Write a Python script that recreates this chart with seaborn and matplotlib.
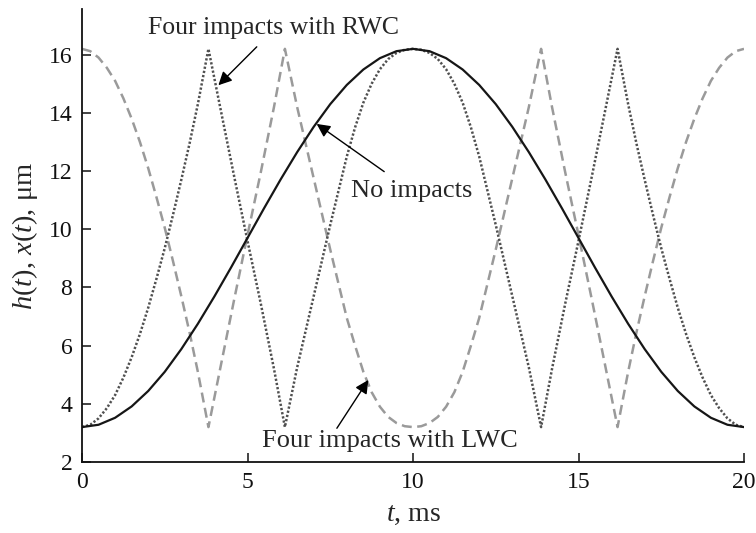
import matplotlib
matplotlib.use("Agg")
import matplotlib.pyplot as plt
import seaborn as sns
import pandas as pd

# ---- data ----
t_none = [0, 0.5, 1.0, 1.5, 2.0, 2.5, 3.0, 3.5, 4.0, 4.5, 5.0, 5.5, 6.0, 6.5, 7.0, 7.5,
          8.0, 8.5, 9.0, 9.5, 10.0, 10.5, 11.0, 11.5, 12.0, 12.5, 13.0, 13.5, 14.0,
          14.5, 15.0, 15.5, 16.0, 16.5, 17.0, 17.5, 18.0, 18.5, 19.0, 19.5, 20.0]
h_none = [3.20, 3.28, 3.52, 3.91, 4.44, 5.10, 5.88, 6.75, 7.69, 8.68, 9.70, 10.72,
          11.71, 12.65, 13.52, 14.30, 14.96, 15.49, 15.88, 16.12, 16.20, 16.12, 15.88,
          15.49, 14.96, 14.30, 13.52, 12.65, 11.71, 10.72, 9.70, 8.68, 7.69, 6.75, 5.88,
          5.10, 4.44, 3.91, 3.52, 3.28, 3.20]

t_imp = [0, 0.25, 0.5, 0.75, 1.0, 1.25, 1.5, 1.75, 2.0, 2.25, 2.5, 2.75, 3.0, 3.25,
         3.5, 3.82, 4.2, 4.6, 5.0, 5.4, 5.8, 6.13, 6.5, 7.0, 7.5, 8.0, 8.25, 8.5,
         8.75, 9.0, 9.25, 9.5, 9.75, 10.0, 10.25, 10.5, 10.75, 11.0, 11.25, 11.5,
         11.75, 12.0, 12.5, 13.0, 13.5, 13.87, 14.2, 14.6, 15.0, 15.4, 15.8, 16.18,
         16.5, 16.75, 17.0, 17.25, 17.5, 17.75, 18.0, 18.25, 18.5, 18.75, 19.0,
         19.25, 19.5, 19.75, 20.0]
x_rwc = [3.20, 3.28, 3.50, 3.85, 4.30, 4.90, 5.60, 6.40, 7.30, 8.30, 9.35, 10.50,
         11.70, 12.95, 14.30, 16.20, 14.05, 11.80, 9.60, 7.45, 5.20, 3.20, 5.25,
         7.70, 10.15, 12.50, 13.50, 14.35, 15.00, 15.50, 15.85, 16.06, 16.17, 16.20,
         16.17, 16.06, 15.85, 15.50, 15.00, 14.35, 13.50, 12.50, 10.15, 7.70, 5.25,
         3.20, 5.20, 7.45, 9.60, 11.80, 14.05, 16.20, 14.30, 12.95, 11.70, 10.50,
         9.35, 8.30, 7.30, 6.40, 5.60, 4.90, 4.30, 3.85, 3.50, 3.28, 3.20]
x_lwc = [16.20, 16.12, 15.90, 15.55, 15.10, 14.50, 13.80, 13.00, 12.10, 11.10, 10.05,
         8.90, 7.70, 6.45, 5.10, 3.20, 5.35, 7.60, 9.80, 11.95, 14.20, 16.20, 14.20,
         11.75, 9.30, 6.95, 6.00, 5.10, 4.40, 3.90, 3.55, 3.34, 3.23, 3.20, 3.23,
         3.34, 3.55, 3.90, 4.40, 5.10, 6.00, 6.95, 9.30, 11.75, 14.20, 16.20, 14.20,
         11.95, 9.80, 7.60, 5.35, 3.20, 5.10, 6.45, 7.70, 8.90, 10.05, 11.10, 12.10,
         13.00, 13.80, 14.50, 15.10, 15.55, 15.90, 16.12, 16.20]

x_ticks = [0, 5, 10, 15, 20]
y_ticks = [2, 4, 6, 8, 10, 12, 14, 16]

lbl_rwc = "Four impacts with RWC"
lbl_none = "No impacts"
lbl_lwc = "Four impacts with LWC"

df_none = pd.DataFrame({"t": t_none, "v": h_none})
df_rwc = pd.DataFrame({"t": t_imp, "v": x_rwc})
df_lwc = pd.DataFrame({"t": t_imp, "v": x_lwc})

sns.set_theme(style="ticks")
plt.rcParams["font.family"] = ["Liberation Serif", "DejaVu Serif"]
plt.rcParams["mathtext.fontset"] = "custom"
plt.rcParams["mathtext.rm"] = "Liberation Serif"
plt.rcParams["mathtext.it"] = "Liberation Serif:italic"

fig = plt.figure(figsize=(7.56, 5.33), dpi=100)
ax = fig.add_axes([82 / 756, 1 - 462 / 533, (744 - 82) / 756, (462 - 9) / 533])

sns.lineplot(data=df_lwc, x="t", y="v", ax=ax, color="#9a9a9a", lw=1.8,
             estimator=None, sort=False)
ax.lines[-1].set_dashes((4, 2.2))
sns.lineplot(data=df_rwc, x="t", y="v", ax=ax, color="#505050", lw=1.8,
             estimator=None, sort=False)
ax.lines[-1].set_dashes((0.9, 0.8))
sns.lineplot(data=df_none, x="t", y="v", ax=ax, color="#161616", lw=1.6,
             estimator=None, sort=False)

ax.set_xlim(0, 20)
ax.set_ylim(2, 17.57)
ax.set_xticks(x_ticks)
ax.set_yticks(y_ticks)
ax.tick_params(direction="in", length=6.5, width=1.1, labelsize=17, pad=7,
               colors="#111111")
for s in ["top", "right"]:
    ax.spines[s].set_visible(False)
for s in ["left", "bottom"]:
    ax.spines[s].set_linewidth(1.3)
    ax.spines[s].set_color("#111111")

ax.set_xlabel(r"$t$, ms", fontsize=20, labelpad=7)
ax.set_ylabel(r"$h(t)$, $x(t)$, μm", fontsize=20.5, labelpad=6)

arrow = dict(arrowstyle="-|>", color="black", lw=1.0, mutation_scale=20,
             shrinkA=0, shrinkB=0)
ax.text(5.8, 16.9, lbl_rwc, fontsize=18.5, ha="center", va="center")
ax.annotate("", xy=(4.12, 14.95), xytext=(5.28, 16.27), arrowprops=arrow)
ax.text(9.97, 11.32, lbl_none, fontsize=19, ha="center", va="center")
ax.annotate("", xy=(7.09, 13.62), xytext=(9.13, 11.98), arrowprops=arrow)
ax.text(9.3, 2.72, lbl_lwc, fontsize=19, ha="center", va="center")
ax.annotate("", xy=(8.65, 4.82), xytext=(7.70, 3.16), arrowprops=arrow)

fig.savefig("out.png", dpi=100)
